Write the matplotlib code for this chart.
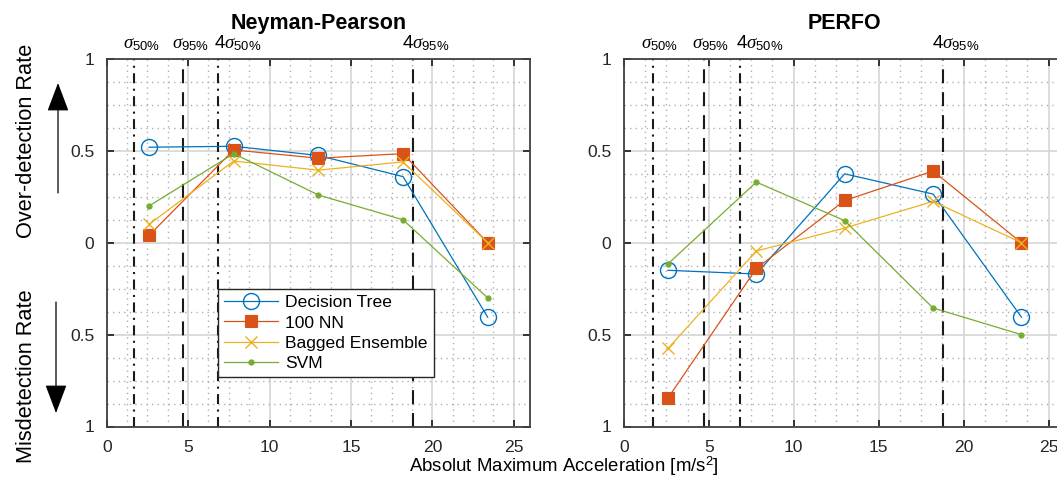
import matplotlib
matplotlib.use('Agg')
import matplotlib.pyplot as plt
from matplotlib.ticker import MultipleLocator, FixedLocator, FixedFormatter
from matplotlib.patches import FancyArrowPatch

plt.rcParams['font.family'] = 'Liberation Sans'
plt.rcParams['mathtext.fontset'] = 'custom'
plt.rcParams['mathtext.rm'] = 'Liberation Sans'
plt.rcParams['mathtext.it'] = 'Liberation Serif:italic'
plt.rcParams['mathtext.bf'] = 'Liberation Sans:bold'

# acceleration bin centres [m/s^2]
accel = [2.6, 7.8, 13.0, 18.2, 23.4]

# positive values = over-detection rate, negative values = misdetection rate
np_tree = [0.52, 0.525, 0.475, 0.36, -0.405]
np_nn = [0.04, 0.505, 0.46, 0.485, 0.0]
np_bag = [0.10, 0.445, 0.395, 0.44, 0.0]
np_svm = [0.20, 0.485, 0.26, 0.125, -0.30]

pf_tree = [-0.15, -0.17, 0.375, 0.265, -0.405]
pf_nn = [-0.845, -0.14, 0.23, 0.39, 0.0]
pf_bag = [-0.575, -0.045, 0.08, 0.225, 0.0]
pf_svm = [-0.115, 0.33, 0.12, -0.355, -0.50]

classifiers = ['Decision Tree', '100 NN', 'Bagged Ensemble', 'SVM']
titles = ['Neyman-Pearson', 'PERFO']

# noise thresholds
sigma_vals = [1.70, 4.71, 6.82, 18.8]
sigma_labels = [r'$\sigma_{\mathrm{50\%}}$', r'$\sigma_{\mathrm{95\%}}$',
                r'$\mathrm{4}\sigma_{\mathrm{50\%}}$', r'$\mathrm{4}\sigma_{\mathrm{95\%}}$']

x_ticks = [0, 5, 10, 15, 20, 25]
y_ticks = [-1, -0.5, 0, 0.5, 1]
y_ticklabels = ['1', '0.5', '0', '0.5', '1']

styles = [
    dict(color='#0072BD', marker='o', ms=11.5, mfc='none', mew=1.0),
    dict(color='#D95319', marker='s', ms=8.2, mfc='#D95319', mew=0.8),
    dict(color='#EDB120', marker='x', ms=8, mew=1.0),
    dict(color='#77AC30', marker='.', ms=7),
]
dash = (0, (6.7, 4.3))
dashdot = (0, (4.8, 2.6, 1, 2.6))
line_styles = [dashdot, dash, dashdot, dash]
label_shift = [-0.67, -0.72, -0.2, -0.65]

W, H = 1057, 479
fig = plt.figure(figsize=(W / 100, H / 100), dpi=100)
ax1 = fig.add_axes([106.7 / W, (H - 426.5) / H, 423.3 / W, 367.5 / H])
ax2 = fig.add_axes([623.8 / W, (H - 426.5) / H, 441.8 / W, 367.5 / H])

datasets = [[np_tree, np_nn, np_bag, np_svm], [pf_tree, pf_nn, pf_bag, pf_svm]]

for ax, series, title in zip([ax1, ax2], datasets, titles):
    ax.set_xlim(0, 26)
    ax.set_ylim(-1, 1)
    ax.xaxis.set_major_locator(FixedLocator(x_ticks))
    ax.yaxis.set_major_locator(FixedLocator(y_ticks))
    ax.yaxis.set_major_formatter(FixedFormatter(y_ticklabels))
    ax.xaxis.set_minor_locator(MultipleLocator(1.25))
    ax.yaxis.set_minor_locator(MultipleLocator(0.125))
    ax.set_axisbelow(True)
    ax.grid(True, which='major', color='#d9d9d9', lw=1.3)
    ax.grid(True, which='minor', color='#b0b0b0', lw=1.0, ls=(0, (1, 3)))
    ax.tick_params(which='major', direction='in', top=True, right=True,
                   length=5, width=1.3, colors='#262626', labelsize=12.6)
    ax.tick_params(axis='x', pad=10)
    ax.tick_params(axis='y', pad=9)
    ax.tick_params(which='minor', length=0)
    for sp in ax.spines.values():
        sp.set_color('#404040')
        sp.set_linewidth(1.3)

    for v, lab, ls, sh in zip(sigma_vals, sigma_labels, line_styles, label_shift):
        ax.axvline(v, color='#1a1a1a', lw=1.5, ls=ls, zorder=1.5)
        ax.annotate(lab, xy=(v + sh, 1), xycoords=('data', 'axes fraction'),
                    xytext=(0, 7.5), textcoords='offset points', ha='left',
                    va='baseline', fontsize=13.5, annotation_clip=False)

    for vals, name, st in zip(series, classifiers, styles):
        ax.plot(accel, vals, lw=0.9, label=name, **st)

    ax.set_title(title, fontsize=15.5, fontweight='bold', pad=21.5)

leg = ax1.legend(loc='upper left', bbox_to_anchor=(218 / W, 1 - 289 / H),
                 bbox_transform=fig.transFigure, fontsize=12.6,
                 handlelength=3.1, handletextpad=0.4, labelspacing=0.28,
                 borderpad=0.35, borderaxespad=0, fancybox=False,
                 framealpha=1, edgecolor='#262626')
leg.get_frame().set_linewidth(1.0)

# direction arrows next to the y labels
arrow_kw = dict(transform=fig.transFigure, arrowstyle='-|>,head_length=18,head_width=6.8',
                mutation_scale=1, color='black', lw=0.9, shrinkA=0, shrinkB=0)
fig.add_artist(FancyArrowPatch((58 / W, 1 - 193 / H), (58 / W, 1 - 83 / H), **arrow_kw))
fig.add_artist(FancyArrowPatch((56 / W, 1 - 302 / H), (56 / W, 1 - 413 / H), **arrow_kw))

fig.text(27 / W, 1 - 141 / H, 'Over-detection Rate', rotation=90,
         ha='center', va='center', fontsize=15.7)
fig.text(27 / W, 1 - 376.5 / H, 'Misdetection Rate', rotation=90,
         ha='center', va='center', fontsize=15.7)
fig.text(563.5 / W, 1 - 472 / H, 'Absolut Maximum Acceleration [m/s$^2$]',
         ha='center', va='baseline', fontsize=13.4)

fig.savefig('out.png', dpi=100)
